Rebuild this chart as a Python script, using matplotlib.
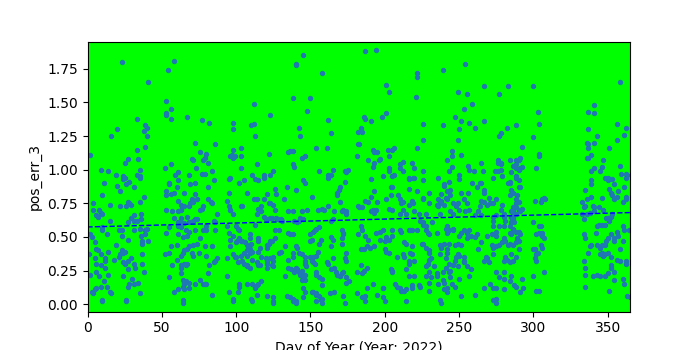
import matplotlib
matplotlib.use('Agg')

import matplotlib.pyplot as plt


#----------------------------------------------------------------
# Readings (day of year, pos_err_3), grouped by area of the chart
#----------------------------------------------------------------
pts_q1_high = [(23,1.80),(58,1.81),(54,1.74),(41,1.65),(53,1.51),(56,1.45),(53,1.42),(53,1.41),(56,1.38),
    (33,1.38),(67,1.39),(77,1.37),(82,1.35),(39,1.33),(40,1.31),(38,1.29),(20,1.30),(16,1.25),(40,1.25),
    (72,1.20),(86,1.19),(33,1.15),(39,1.17),(76,1.13),(80,1.12),(2,1.11),(27,1.08),(34,1.08),(25,1.05),
    (70,1.08),(71,1.07),(78,1.07),(79,1.09),(81,1.05),(56,1.04),(52,1.01),(35,1.00),(73,1.01),(9,1.00),
    (14,0.99),(84,0.99),(19,0.96),(24,0.95),(33,0.96),(35,0.95),(59,0.96),(61,0.98),(68,0.96),(77,0.97),(79,0.97)]

pts_q2_high = [(145,1.85),(140,1.79),(140,1.78),(158,1.72),(138,1.53),(150,1.53),(112,1.49),(148,1.44),
    (123,1.41),(98,1.35),(162,1.37),(110,1.33),(112,1.34),(98,1.30),(142,1.31),(164,1.27),(113,1.25),
    (143,1.25),(182,1.28),(182,1.19),(98,1.15),(103,1.16),(135,1.13),(136,1.14),(138,1.14),(154,1.16),
    (161,1.16),(122,1.12),(96,1.10),(98,1.09),(99,1.10),(97,1.11),(103,1.10),(144,1.09),(146,1.10),
    (181,1.10),(114,1.04),(138,1.04),(139,1.02),(103,1.01),(156,0.99),(165,1.00),(125,0.99),(173,0.99),
    (175,1.00),(174,0.98),(111,0.96),(119,0.96),(123,0.96),(162,0.96),(164,0.96),(96,0.94)]

pts_q3_high = [(187,1.88),(194,1.89),(254,1.79),(239,1.74),(222,1.72),(222,1.69),(201,1.63),(203,1.58),
    (267,1.62),(249,1.58),(255,1.56),(221,1.54),(259,1.49),(253,1.45),(201,1.42),(198,1.39),(186,1.39),
    (187,1.38),(191,1.36),(247,1.39),(251,1.36),(257,1.35),(267,1.36),(226,1.34),(239,1.33),(184,1.31),
    (185,1.28),(250,1.30),(261,1.31),(226,1.22),(249,1.22),(183,1.19),(222,1.16),(192,1.15),(193,1.13),
    (195,1.13),(202,1.15),(205,1.15),(206,1.16),(245,1.14),(245,1.10),(251,1.11),(203,1.10),(189,1.07),
    (196,1.07),(197,1.08),(193,1.05),(192,1.02),(210,1.04),(212,1.06),(218,1.05),(242,1.07),(265,1.05),
    (210,1.01),(220,1.01),(245,1.02),(243,0.99),(256,1.03),(257,1.00),(203,1.01),(203,0.99),(212,0.99),
    (226,0.99),(260,0.99),(266,0.99),(199,0.95),(206,0.96),(205,0.95),(216,0.94),(220,0.94),(250,0.96),(274,0.99)]

pts_q4_high = [(283,1.62),(300,1.62),(277,1.56),(358,1.65),(341,1.48),(337,1.43),(341,1.42),(303,1.43),
    (304,1.34),(288,1.33),(282,1.31),(278,1.27),(277,1.25),(356,1.34),(362,1.31),(337,1.30),(361,1.26),
    (343,1.25),(300,1.24),(356,1.22),(336,1.20),(337,1.19),(337,1.16),(341,1.20),(292,1.17),(351,1.16),
    (304,1.12),(304,1.10),(336,1.09),(337,1.09),(339,1.11),(347,1.07),(284,1.07),(291,1.09),(290,1.07),
    (276,1.07),(278,1.05),(276,1.05),(288,1.07),(288,1.04),(286,1.03),(278,1.04),(291,1.01),(292,1.02),
    (290,1.00),(288,1.01),(302,1.01),(278,1.00),(276,0.99),(285,0.98),(341,1.01),(346,1.02),(358,1.03),
    (339,0.99),(345,0.99),(359,0.97),(362,0.97),(363,0.96),(279,0.95),(288,0.95)]

pts_q1_low = [(11,0.90),(20,0.88),(24,0.93),(25,0.94),(28,0.91),(26,0.89),(35,0.94),(31,0.87),(22,0.84),
    (10,0.81),(15,0.74),(4,0.75),(4,0.70),(6,0.66),(8,0.70),(9,0.68),(7,0.65),(10,0.67),(22,0.73),(26,0.73),
    (27,0.76),(28,0.75),(29,0.74),(35,0.76),(38,0.80),(15,0.62),(27,0.61),(29,0.64),(31,0.62),(33,0.62),
    (36,0.63),(36,0.67),(31,0.66),(2,0.52),(3,0.50),(5,0.46),(10,0.57),(10,0.55),(13,0.52),(21,0.55),
    (23,0.55),(23,0.51),(27,0.48),(31,0.55),(35,0.56),(39,0.55),(40,0.56),(39,0.52),(36,0.51),(37,0.47),
    (37,0.45),(41,0.47),(19,0.44),(6,0.41),(7,0.40),(14,0.39),(9,0.37),(1,0.37),(5,0.34),(6,0.30),(9,0.29),
    (12,0.34),(12,0.32),(12,0.27),(18,0.33),(21,0.35),(22,0.37),(24,0.38),(23,0.40),(25,0.39),(24,0.31),
    (25,0.30),(27,0.32),(29,0.34),(31,0.30),(32,0.27),(27,0.26),(37,0.37),(37,0.30),(38,0.24),(24,0.21),
    (2,0.22),(6,0.24),(8,0.21),(14,0.22),(11,0.17),(13,0.13),(9,0.13),(6,0.12),(5,0.11),(3,0.09),(4,0.08),
    (15,0.09),(16,0.08),(27,0.13),(28,0.15),(30,0.19),(31,0.15),(34,0.16),(35,0.08),(10,0.03),(26,0.03),
    (55,0.90),(55,0.89),(61,0.92),(69,0.89),(72,0.90),(85,0.92),(53,0.84),(53,0.81),(56,0.82),(58,0.83),
    (60,0.87),(65,0.83),(72,0.82),(81,0.87),(70,0.78),(71,0.76),(74,0.78),(69,0.75),(61,0.77),(63,0.74),
    (68,0.73),(81,0.78),(83,0.76),(84,0.75),(78,0.73),(77,0.71),(76,0.70),(53,0.70),(57,0.69),(61,0.69),
    (63,0.70),(65,0.73),(58,0.64),(63,0.64),(67,0.65),(61,0.61),(63,0.61),(65,0.60),(68,0.61),(71,0.62),
    (72,0.63),(74,0.63),(87,0.67),(85,0.62),(86,0.61),(61,0.58),(63,0.57),(66,0.55),(55,0.57),(53,0.53),
    (61,0.52),(64,0.50),(67,0.51),(68,0.54),(72,0.55),(78,0.55),(80,0.55),(80,0.58),(86,0.55),(76,0.49),
    (74,0.45),(71,0.44),(68,0.43),(67,0.41),(65,0.40),(60,0.44),(56,0.43),(55,0.38),(52,0.37),(64,0.38),
    (63,0.36),(70,0.38),(71,0.36),(79,0.43),(84,0.43),(80,0.36),(75,0.38),(60,0.33),(87,0.34),(86,0.32),
    (85,0.31),(82,0.29),(57,0.29),(63,0.29),(65,0.30),(66,0.29),(67,0.30),(63,0.27),(81,0.23),(63,0.23),
    (55,0.20),(64,0.18),(65,0.16),(65,0.15),(66,0.17),(68,0.16),(68,0.12),(72,0.15),(76,0.18),(78,0.15),
    (79,0.15),(80,0.15),(84,0.07),(64,0.03),(58,0.09),(61,0.11),(65,0.11),(64,0.13)]

pts_q2_low = [(95,0.93),(102,0.90),(105,0.92),(113,0.93),(115,0.92),(119,0.94),(126,0.86),(134,0.87),
    (140,0.85),(145,0.92),(146,0.90),(162,0.94),(173,0.91),(95,0.83),(94,0.77),(95,0.73),(96,0.70),(96,0.70),
    (98,0.67),(103,0.73),(104,0.73),(107,0.83),(112,0.78),(114,0.78),(119,0.78),(121,0.82),(122,0.75),
    (123,0.75),(125,0.74),(126,0.70),(127,0.82),(132,0.78),(115,0.71),(117,0.73),(117,0.69),(114,0.67),
    (119,0.65),(120,0.63),(121,0.63),(123,0.64),(124,0.64),(127,0.64),(128,0.63),(131,0.62),(130,0.63),
    (135,0.69),(138,0.69),(139,0.62),(141,0.61),(142,0.62),(143,0.64),(144,0.69),(145,0.63),(148,0.70),
    (151,0.80),(155,0.70),(158,0.71),(159,0.70),(162,0.73),(164,0.62),(165,0.63),(166,0.69),(168,0.81),
    (168,0.83),(169,0.85),(170,0.87),(170,0.76),(171,0.69),(172,0.70),(174,0.69),(174,0.67),(182,0.73),
    (94,0.58),(95,0.53),(96,0.48),(98,0.51),(100,0.58),(101,0.56),(102,0.55),(100,0.46),(101,0.48),(102,0.49),
    (103,0.47),(104,0.47),(106,0.46),(107,0.44),(109,0.52),(109,0.49),(110,0.45),(109,0.41),(107,0.40),
    (105,0.38),(107,0.36),(109,0.38),(103,0.36),(96,0.43),(94,0.34),(98,0.37),(99,0.35),(100,0.35),(101,0.31),
    (104,0.32),(105,0.30),(107,0.28),(107,0.29),(109,0.27),(111,0.33),(111,0.39),(113,0.59),(115,0.49),
    (115,0.47),(116,0.42),(115,0.39),(114,0.31),(115,0.29),(116,0.29),(117,0.35),(120,0.34),(121,0.30),
    (121,0.27),(121,0.32),(123,0.34),(125,0.35),(124,0.29),(125,0.28),(125,0.32),(121,0.44),(121,0.42),
    (122,0.45),(123,0.47),(124,0.47),(126,0.49),(126,0.55),(129,0.55),(129,0.38),(130,0.39),(133,0.43),
    (135,0.53),(136,0.52),(138,0.52),(140,0.43),(141,0.42),(138,0.38),(138,0.35),(135,0.33),(135,0.27),
    (137,0.26),(140,0.27),(141,0.26),(139,0.24),(142,0.24),(143,0.22),(144,0.21),(145,0.20),(146,0.18),
    (144,0.18),(144,0.25),(146,0.22),(142,0.38),(144,0.37),(146,0.35),(146,0.32),(146,0.30),(147,0.28),
    (150,0.47),(151,0.48),(150,0.52),(152,0.54),(153,0.55),(154,0.56),(156,0.57),(156,0.45),(157,0.48),
    (155,0.39),(154,0.36),(154,0.24),(154,0.22),(156,0.20),(158,0.19),(150,0.35),(151,0.32),(152,0.31),
    (153,0.30),(152,0.35),(164,0.43),(165,0.34),(166,0.27),(167,0.24),(168,0.22),(170,0.21),(170,0.21),
    (171,0.23),(172,0.24),(161,0.31),(162,0.30),(164,0.26),(164,0.50),(165,0.48),(171,0.55),(172,0.53),
    (172,0.52),(171,0.49),(171,0.45),(174,0.38),(173,0.34),(174,0.32),(174,0.20),(174,0.16),(176,0.17),
    (182,0.52),(181,0.24),(181,0.08),(133,0.21),(94,0.21),(95,0.09),(98,0.04),(102,0.15),(102,0.13),
    (101,0.09),(107,0.15),(111,0.15),(113,0.13),(113,0.12),(114,0.14),(115,0.15),(117,0.17),(114,0.07),
    (110,0.04),(121,0.06),(125,0.05),(125,0.02),(134,0.06),(136,0.05),(138,0.04),(140,0.02),(145,0.12),
    (146,0.09),(151,0.09),(152,0.09),(154,0.08),(154,0.07),(156,0.06),(158,0.04),(158,0.14),(157,0.03),
    (163,0.08),(166,0.09),(172,0.06),(145,0.05)]

pts_q3_low = [(191,0.93),(204,0.87),(205,0.87),(216,0.93),(219,0.94),(226,0.92),(236,0.94),(240,0.89),
    (240,0.88),(243,0.91),(250,0.93),(259,0.90),(262,0.87),(264,0.90),(265,0.90),(267,0.85),(267,0.83),
    (273,0.94),(193,0.84),(187,0.77),(191,0.80),(189,0.76),(195,0.76),(201,0.78),(204,0.81),(209,0.81),
    (210,0.78),(211,0.75),(212,0.76),(216,0.86),(216,0.74),(218,0.77),(219,0.75),(222,0.84),(226,0.79),
    (226,0.78),(230,0.83),(230,0.75),(238,0.82),(236,0.78),(237,0.76),(238,0.75),(235,0.74),(236,0.73),
    (238,0.77),(240,0.74),(241,0.79),(242,0.78),(242,0.84),(244,0.85),(244,0.81),(246,0.75),(248,0.73),
    (249,0.75),(250,0.70),(251,0.83),(253,0.78),(255,0.75),(256,0.83),(257,0.70),(263,0.69),(264,0.73),
    (265,0.77),(267,0.76),(269,0.74),(270,0.79),(271,0.75),(273,0.75),(183,0.72),(185,0.72),(191,0.69),
    (192,0.70),(193,0.68),(194,0.70),(203,0.71),(205,0.70),(210,0.67),(212,0.70),(214,0.67),(220,0.69),
    (223,0.67),(228,0.67),(237,0.67),(244,0.69),(246,0.67),(254,0.69),(261,0.66),(265,0.66),(273,0.65),
    (184,0.58),(185,0.55),(187,0.51),(189,0.48),(194,0.53),(197,0.54),(199,0.55),(197,0.48),(200,0.47),
    (201,0.50),(203,0.48),(205,0.51),(205,0.55),(210,0.55),(211,0.54),(216,0.55),(217,0.55),(218,0.55),
    (222,0.55),(226,0.59),(226,0.61),(228,0.58),(228,0.55),(229,0.53),(230,0.52),(224,0.62),(232,0.61),
    (235,0.53),(241,0.56),(242,0.58),(243,0.55),(242,0.53),(246,0.55),(246,0.56),(250,0.51),(251,0.53),
    (253,0.55),(255,0.53),(257,0.55),(255,0.49),(258,0.51),(261,0.50),(262,0.52),(269,0.51),(272,0.52),
    (273,0.62),(273,0.58),(188,0.43),(186,0.41),(184,0.41),(190,0.42),(193,0.43),(200,0.41),(201,0.39),
    (203,0.38),(208,0.35),(213,0.46),(214,0.45),(212,0.37),(218,0.37),(218,0.43),(217,0.38),(220,0.32),
    (216,0.32),(216,0.30),(213,0.35),(225,0.45),(226,0.45),(228,0.42),(230,0.40),(230,0.38),(231,0.34),
    (230,0.33),(229,0.30),(228,0.28),(237,0.44),(238,0.42),(237,0.37),(240,0.45),(243,0.45),(242,0.41),
    (242,0.38),(241,0.34),(241,0.27),(243,0.30),(247,0.44),(249,0.45),(251,0.44),(250,0.36),(249,0.37),
    (248,0.35),(247,0.32),(246,0.29),(249,0.28),(253,0.35),(253,0.32),(253,0.31),(263,0.41),(265,0.46),
    (268,0.35),(269,0.34),(267,0.32),(270,0.31),(272,0.44),(273,0.42),(273,0.37),(184,0.29),(188,0.27),
    (186,0.25),(185,0.23),(192,0.15),(188,0.12),(187,0.06),(185,0.05),(195,0.07),(199,0.12),(199,0.12),
    (199,0.05),(204,0.26),(205,0.25),(205,0.24),(207,0.15),(208,0.13),(210,0.12),(211,0.10),(213,0.10),
    (214,0.26),(214,0.11),(216,0.21),(218,0.14),(218,0.12),(220,0.21),(223,0.14),(224,0.13),(228,0.21),
    (230,0.16),(230,0.10),(231,0.20),(230,0.24),(233,0.28),(235,0.21),(235,0.23),(236,0.15),(237,0.03),
    (239,0.24),(239,0.18),(240,0.16),(240,0.11),(242,0.12),(242,0.09),(243,0.24),(244,0.25),(244,0.20),
    (245,0.15),(247,0.13),(250,0.19),(251,0.06),(255,0.28),(257,0.21),(258,0.26),(261,0.07),(267,0.12),
    (271,0.15),(273,0.12),(273,0.03)]

pts_q4_low = [(275,0.78),(278,0.70),(279,0.74),(283,0.90),(284,0.91),(284,0.90),(285,0.85),(286,0.83),
    (284,0.81),(288,0.94),(290,0.92),(290,0.87),(291,0.87),(289,0.81),(288,0.78),(290,0.76),(288,0.75),
    (288,0.72),(286,0.72),(286,0.70),(285,0.69),(286,0.68),(290,0.70),(291,0.69),(292,0.71),(288,0.67),
    (285,0.65),(286,0.64),(285,0.61),(287,0.61),(284,0.58),(286,0.56),(286,0.55),(288,0.54),(284,0.53),
    (285,0.52),(280,0.58),(281,0.62),(280,0.65),(280,0.67),(275,0.66),(277,0.58),(275,0.54),(275,0.51),
    (290,0.54),(291,0.52),(289,0.49),(280,0.49),(281,0.47),(279,0.46),(277,0.44),(275,0.43),(283,0.44),
    (284,0.45),(286,0.44),(288,0.46),(290,0.47),(290,0.41),(285,0.37),(281,0.35),(282,0.33),(280,0.32),
    (284,0.31),(286,0.32),(288,0.35),(280,0.24),(285,0.21),(280,0.19),(284,0.17),(287,0.14),(288,0.13),
    (292,0.19),(293,0.12),(291,0.09),(280,0.11),(275,0.12),(275,0.04),(277,0.20),(275,0.24),
    (301,0.77),(305,0.76),(306,0.78),(307,0.79),(308,0.78),(300,0.61),(304,0.58),(305,0.58),(302,0.52),
    (304,0.53),(305,0.52),(306,0.51),(307,0.49),(306,0.53),(300,0.41),(301,0.41),(302,0.37),(303,0.38),
    (301,0.34),(302,0.32),(305,0.44),(306,0.42),(300,0.21),(307,0.24),(302,0.10),(304,0.10),
    (333,0.76),(335,0.73),(334,0.72),(336,0.78),(339,0.80),(339,0.92),(339,0.89),(335,0.85),(340,0.73),
    (341,0.72),(344,0.72),(347,0.70),(346,0.79),(348,0.94),(350,0.92),(350,0.94),(353,0.93),(354,0.89),
    (351,0.86),(352,0.83),(353,0.81),(354,0.78),(356,0.80),(360,0.76),(362,0.78),(362,0.80),(361,0.87),
    (362,0.94),(357,0.84),(333,0.67),(334,0.63),(336,0.67),(338,0.68),(341,0.69),(343,0.58),(344,0.59),
    (346,0.59),(348,0.59),(349,0.64),(350,0.64),(351,0.62),(352,0.65),(353,0.67),(342,0.53),(334,0.52),
    (335,0.49),(339,0.44),(338,0.43),(343,0.44),(345,0.42),(346,0.44),(348,0.44),(349,0.47),(350,0.49),
    (352,0.52),(354,0.49),(354,0.47),(356,0.54),(357,0.51),(360,0.58),(361,0.55),(360,0.47),(364,0.55),
    (358,0.41),(348,0.37),(345,0.37),(346,0.38),(347,0.36),(350,0.38),(352,0.35),(337,0.38),(334,0.32),
    (335,0.27),(335,0.22),(340,0.21),(343,0.22),(345,0.21),(348,0.21),(350,0.23),(352,0.29),(352,0.27),
    (354,0.24),(354,0.18),(356,0.33),(358,0.32),(362,0.32),(362,0.30),(360,0.19),(361,0.15),(363,0.06),
    (335,0.13),(351,0.10),(365,0.05)]

pts_floor = [(10,0.02),(26,0.02),(64,0.01),(98,0.02),(111,0.02),(125,0.01),(138,0.02),(140,0.01),
    (154,0.02),(158,0.01),(173,0.01),(187,0.02),(200,0.02),(214,0.02),(238,0.01),(275,0.01)]

# trend line end points
trend_day = [0, 365]
trend_err = [0.574, 0.681]

yticks = [0.00, 0.25, 0.50, 0.75, 1.00, 1.25, 1.50, 1.75]
xticks = [0, 50, 100, 150, 200, 250, 300, 350]


#----------------------------------------------------------------
# Plot
#----------------------------------------------------------------
all_pts = (pts_q1_high + pts_q2_high + pts_q3_high + pts_q4_high +
           pts_q1_low + pts_q2_low + pts_q3_low + pts_q4_low + pts_floor)
days = [p[0] for p in all_pts]
errs = [p[1] for p in all_pts]

fig, ax = plt.subplots(figsize=(7, 3.5), dpi=100)
ax.set_facecolor('lime')

ax.scatter(days, errs, s=8, color='tab:blue')
ax.plot(trend_day, trend_err, 'b--', linewidth=1)

ax.set_xlim(0, 365)
ax.set_ylim(-0.055, 1.95)
ax.set_xticks(xticks)
ax.set_yticks(yticks)

ax.set_xlabel("Day of Year (Year: 2022)")
ax.set_ylabel("pos_err_3")

fig.savefig('out.png')
plt.close(fig)
